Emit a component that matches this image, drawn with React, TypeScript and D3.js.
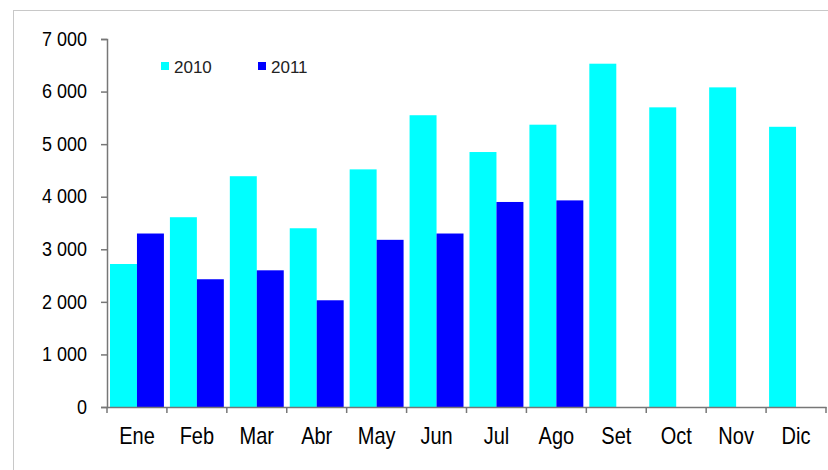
import React, { useEffect, useRef } from "react";
import * as d3 from "d3";

const months = ["Ene", "Feb", "Mar", "Abr", "May", "Jun", "Jul", "Ago", "Set", "Oct", "Nov", "Dic"];
const values2010 = [2720, 3610, 4390, 3400, 4520, 5550, 4850, 5370, 6530, 5700, 6080, 5330];
const values2011 = [3300, 2430, 2600, 2030, 3180, 3300, 3900, 3930, null, null, null, null];
const seriesNames = ["2010", "2011"];
const seriesColors = ["#00ffff", "#0000ff"];
const yTicks = [0, 1000, 2000, 3000, 4000, 5000, 6000, 7000];

const App = () => {
  const svgRef = useRef<SVGSVGElement>(null);

  useEffect(() => {
    const W = 828;
    const H = 470;
    const margin = { top: 39, right: 2, bottom: 63, left: 107 };
    const width = W - margin.left - margin.right;
    const height = H - margin.top - margin.bottom;

    const root = d3.select(svgRef.current);
    root.selectAll("*").remove();
    root.attr("width", W).attr("height", H);

    // outer frame
    root
      .append("rect")
      .attr("x", 13.5)
      .attr("y", 10.5)
      .attr("width", 840)
      .attr("height", 480)
      .attr("fill", "#fff")
      .attr("stroke", "#c8c8c8");

    const svg = root.append("g").attr("transform", `translate(${margin.left},${margin.top})`);

    const x = d3.scaleBand().domain(months).range([0, width]).paddingInner(0).paddingOuter(0);
    const inner = d3.scaleBand().domain(seriesNames).range([3, x.bandwidth() - 3]);
    const y = d3.scaleLinear().domain([0, 7000]).range([height, 0]);

    const data = months.map((m, i) => ({ m, vals: [values2010[i], values2011[i]] }));

    const groups = svg
      .selectAll(".grp")
      .data(data)
      .enter()
      .append("g")
      .attr("transform", (d) => `translate(${x(d.m)},0)`);

    groups
      .selectAll("rect")
      .data((d) => d.vals.map((v, j) => ({ v, j })).filter((e) => e.v != null))
      .enter()
      .append("rect")
      .attr("x", (e) => inner(seriesNames[e.j]))
      .attr("y", (e) => y(e.v))
      .attr("width", inner.bandwidth())
      .attr("height", (e) => height - y(e.v))
      .attr("fill", (e) => seriesColors[e.j]);

    const fmt = (v: number) => d3.format(",")(v).replace(",", " ");

    const yAxis = svg
      .append("g")
      .call(d3.axisLeft(y).tickValues(yTicks).tickSize(6).tickFormat(fmt as any).tickSizeOuter(6));
    yAxis.select(".domain").attr("stroke", "#777").attr("stroke-width", 1.5);
    yAxis.selectAll(".tick line").attr("stroke", "#777").attr("stroke-width", 1.5);
    yAxis
      .selectAll(".tick text")
      .attr("x", -20)
      .attr("fill", "#000")
      .attr("transform", "scale(1,1.08)")
      .attr("y", 0)
      .style("font-family", "Liberation Sans, Arial, sans-serif")
      .style("font-size", "18px");

    const xAxis = svg
      .append("g")
      .attr("transform", `translate(0,${height})`)
      .call(d3.axisBottom(x).tickSize(0).tickSizeOuter(0));
    xAxis.select(".domain").attr("stroke", "#777").attr("stroke-width", 1.5);
    xAxis
      .selectAll(".tick text")
      .attr("transform", "scale(1,1.2)")
      .attr("y", 37 / 1.2)
      .attr("dy", 0)
      .attr("fill", "#000")
      .style("font-family", "Liberation Sans, Arial, sans-serif")
      .style("font-size", "20px");

    // category boundary ticks
    svg
      .append("g")
      .selectAll("line")
      .data(months.concat(["end"]))
      .enter()
      .append("line")
      .attr("x1", (d, i) => (i < months.length ? x(d)! : width))
      .attr("x2", (d, i) => (i < months.length ? x(d)! : width))
      .attr("y1", height)
      .attr("y2", height + 6)
      .attr("stroke", "#777")
      .attr("stroke-width", 1.5);

    // legend
    const legend = root.append("g");
    const legendX = [161, 258];
    seriesNames.forEach((name, i) => {
      legend
        .append("rect")
        .attr("x", legendX[i])
        .attr("y", 62)
        .attr("width", 8)
        .attr("height", 8)
        .attr("fill", seriesColors[i]);
      legend
        .append("text")
        .attr("x", legendX[i] + 13)
        .attr("y", 73)
        .attr("fill", "#222")
        .style("font-family", "Liberation Sans, Arial, sans-serif")
        .style("font-size", "17px")
        .text(name);
    });
  }, []);

  return <svg ref={svgRef} style={{ position: "absolute", left: 0, top: 0 }}></svg>;
};

export default App;
